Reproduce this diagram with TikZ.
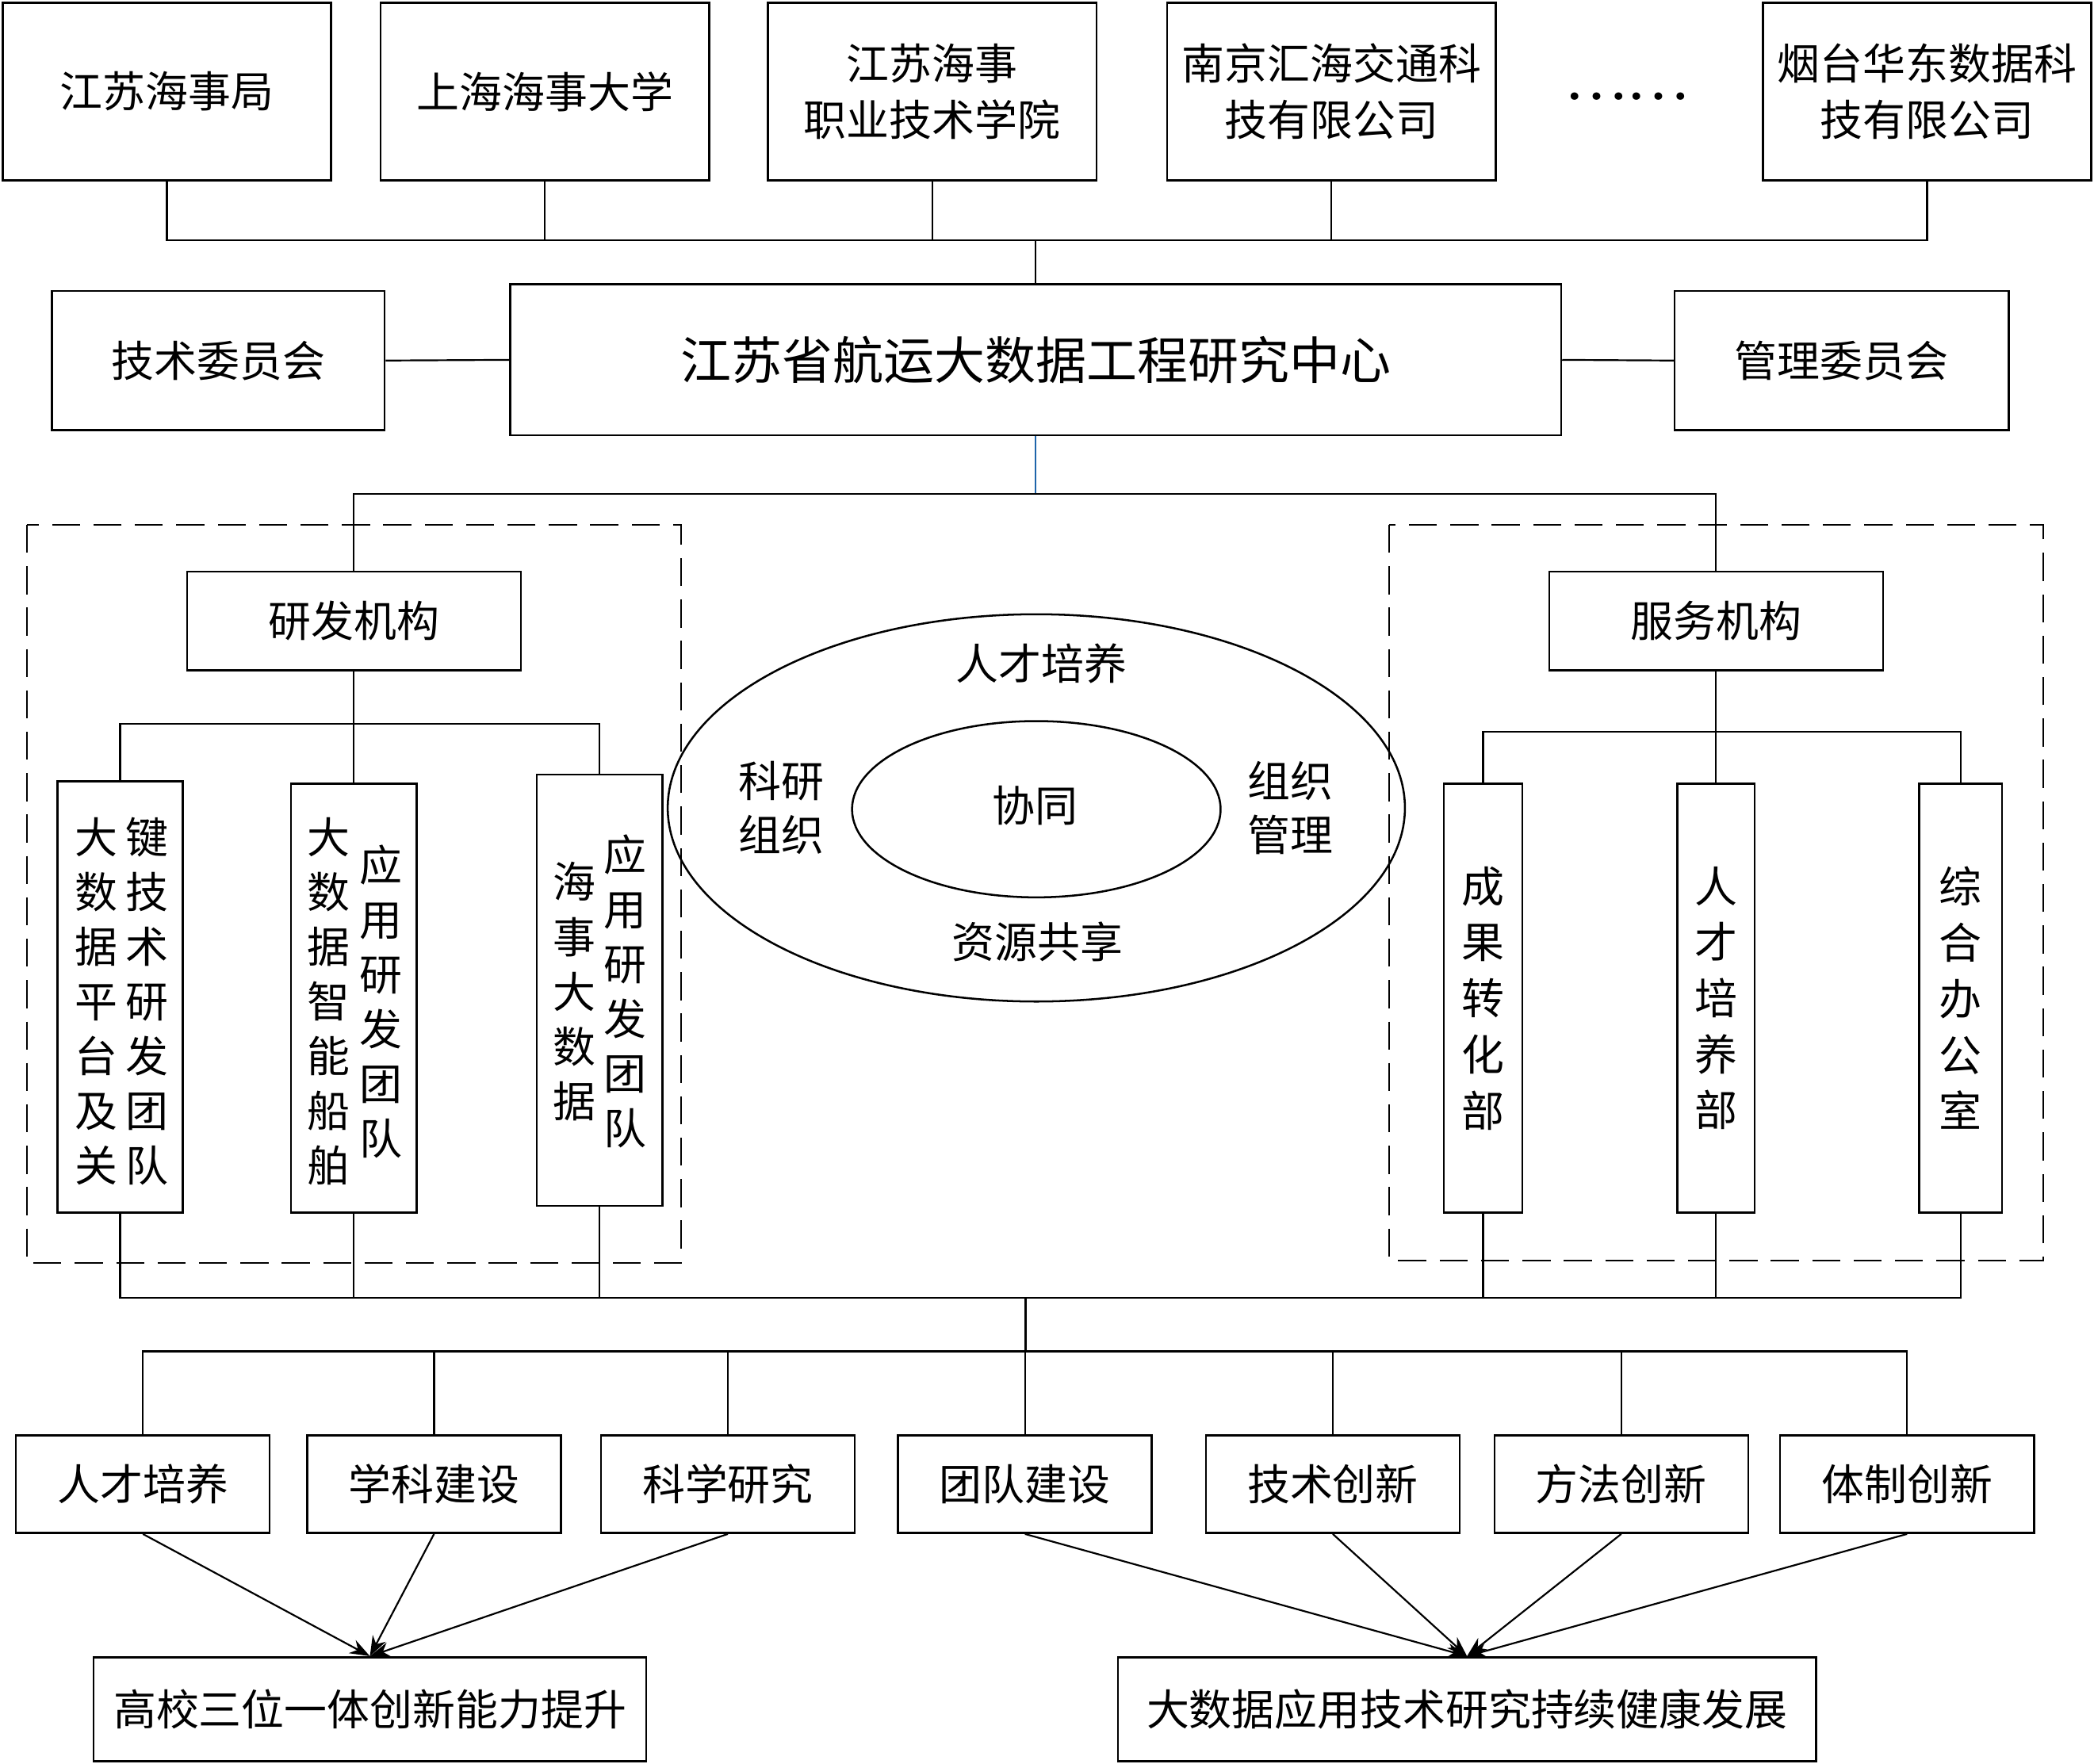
\documentclass[tikz,border=0pt]{standalone}
\usepackage{fontspec}
\setmainfont{Noto Sans CJK SC}
\usetikzlibrary{arrows.meta,shapes.geometric}
\definecolor{bluel}{RGB}{30,100,170}
\begin{document}
\begin{tikzpicture}[x=1pt,y=-1pt,
  box/.style={draw,line width=1.5pt,inner sep=0pt,font=\fontsize{32}{42}\selectfont,align=center},
  ln/.style={line width=1.3pt},
  vt/.style={inner sep=0pt,font=\fontsize{32}{41}\selectfont,align=center},
  txt/.style={inner sep=0pt,font=\fontsize{32}{40}\selectfont,align=center},
  arr/.style={line width=1.3pt,-{Stealth[length=15pt,width=11pt]}},
  dbox/.style={draw,line width=1.3pt,dash pattern=on 21pt off 10pt},
  topbox/.style={box,minimum width=246,minimum height=133},
  botbox/.style={box,minimum width=190,minimum height=73}
]
\useasboundingbox (0,0) rectangle (1568,1321);

% top row
\node[topbox] (t1) at (125,68.5) {江苏海事局};
\node[topbox] (t2) at (408,68.5) {上海海事大学};
\node[topbox] (t3) at (698,68.5) {江苏海事\\职业技术学院};
\node[topbox] (t4) at (997,68.5) {南京汇海交通科\\技有限公司};
\node[txt,font=\fontsize{40}{40}\selectfont,xscale=1.1] (dots) at (1218,72) {……};
\node[topbox] (t5) at (1443,68.5) {烟台华东数据科\\技有限公司};

\coordinate (bus1) at (775.5,180);
\draw[ln] (t1.south) -- (t1.south |- bus1) -- (t5.south |- bus1) -- (t5.south);
\foreach \n in {t2,t3,t4} \draw[ln] (\n.south) -- (\n.south |- bus1);

% middle row
\node[box,minimum width=787,minimum height=113,font=\fontsize{38}{46}\selectfont] (center) at (775.5,269.5) {江苏省航运大数据工程研究中心};
\node[box,minimum width=249,minimum height=104] (tc) at (163.5,270) {技术委员会};
\node[box,minimum width=250,minimum height=104] (mc) at (1379,270) {管理委员会};
\draw[ln] (bus1) -- (center.north);
\draw[ln] (tc.east) -- (center.west);
\draw[ln] (center.east) -- (mc.west);

% dashed groups
\draw[dbox] (20,393) rectangle (510,946);
\draw[dbox] (1040,393) rectangle (1530,944);

% level 2
\node[box,minimum width=250,minimum height=74] (rd) at (265,465) {研发机构};
\node[box,minimum width=250,minimum height=74] (sv) at (1285,465) {服务机构};
\coordinate (bus2) at (775.5,370);
\draw[line width=1.1pt,bluel] (center.south) -- (bus2);
\draw[ln] (rd.north) -- (rd.north |- bus2) -- (sv.north |- bus2) -- (sv.north);

% left sub boxes
\node[box,minimum width=94,minimum height=323] (a1) at (90,746.5) {};
\node[box,minimum width=94,minimum height=321] (a2) at (265,747.5) {};
\node[box,minimum width=94,minimum height=323] (a3) at (449,741.5) {};
\node[vt] (a1l) at (72,750) {大\\数\\据\\平\\台\\及\\关};
\node[vt] (a1r) at (110,750) {键\\技\\术\\研\\发\\团\\队};
\node[vt] (a2l) at (246,750) {大\\数\\据\\智\\能\\船\\舶};
\node[vt] (a2r) at (285,750) {应\\用\\研\\发\\团\\队};
\node[vt] (a3l) at (430,742.5) {海\\事\\大\\数\\据};
\node[vt] (a3r) at (468,742.5) {应\\用\\研\\发\\团\\队};
\coordinate (lb) at (265,542);
\draw[ln] (rd.south) -- (lb);
\draw[ln] (a1.north) -- (a1.north |- lb) -- (a3.north |- lb) -- (a3.north);
\draw[ln] (a2.north) -- (a2.north |- lb);

% right sub boxes
\node[box,minimum width=59,minimum height=321] (s1) at (1110.5,747.5) {成\\果\\转\\化\\部};
\node[box,minimum width=58,minimum height=321] (s2) at (1285,747.5) {人\\才\\培\\养\\部};
\node[box,minimum width=62,minimum height=321] (s3) at (1468,747.5) {综\\合\\办\\公\\室};
\coordinate (rb) at (1285,548);
\draw[ln] (sv.south) -- (rb);
\draw[ln] (s1.north) -- (s1.north |- rb) -- (s3.north |- rb) -- (s3.north);
\draw[ln] (s2.north) -- (s2.north |- rb);

% ellipse
\node[draw,ellipse,line width=1.5pt,minimum width=552,minimum height=290,inner sep=0pt] (el) at (776,605) {};
\node[draw,ellipse,line width=1.5pt,minimum width=276,minimum height=132,inner sep=0pt] (ei) at (776,606) {};
\node[txt] (e1) at (780,497) {人才培养};
\node[txt] (e2) at (585,605) {科研\\组织};
\node[txt] (e3) at (966,605) {组织\\管理};
\node[txt] (e4) at (775,603) {协同};
\node[txt] (e5) at (777,705) {资源共享};

% collect bus
\coordinate (cb) at (768,972);
\draw[ln] (a1.south) -- (a1.south |- cb) -- (s3.south |- cb) -- (s3.south);
\foreach \n in {a2,a3,s1,s2} \draw[ln] (\n.south) -- (\n.south |- cb);
\coordinate (db) at (768,1012);
\draw[ln] (cb) -- (db);

% bottom boxes
\node[botbox] (g1) at (107,1111.5) {人才培养};
\node[botbox] (g2) at (325,1111.5) {学科建设};
\node[botbox] (g3) at (545,1111.5) {科学研究};
\node[botbox] (g4) at (767.5,1111.5) {团队建设};
\node[botbox] (g5) at (998,1111.5) {技术创新};
\node[botbox] (g6) at (1214,1111.5) {方法创新};
\node[botbox] (g7) at (1428,1111.5) {体制创新};
\draw[ln] (g1.north) -- (g1.north |- db) -- (g7.north |- db) -- (g7.north);
\foreach \n in {g2,g3,g4,g5,g6} \draw[ln] (\n.north) -- (\n.north |- db);

% outcomes
\node[box,minimum width=414,minimum height=78] (o1) at (277,1280) {高校三位一体创新能力提升};
\node[box,minimum width=523,minimum height=78] (o2) at (1098.5,1280) {大数据应用技术研究持续健康发展};
\foreach \n in {g1,g2,g3} \draw[arr] (\n.south) -- (o1.north);
\foreach \n in {g4,g5,g6,g7} \draw[arr] (\n.south) -- (o2.north);
\end{tikzpicture}
\end{document}
